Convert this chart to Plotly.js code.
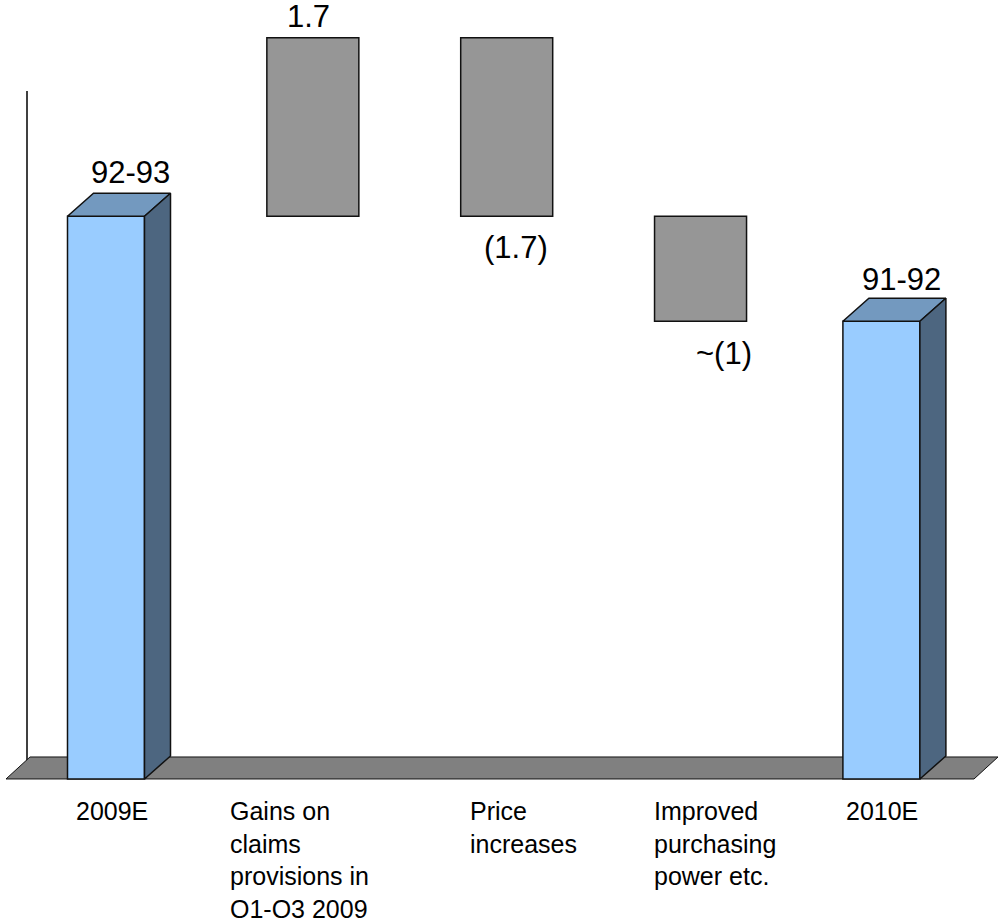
<!DOCTYPE html>
<html>
<head>
<meta charset="utf-8">
<script src="https://cdn.plot.ly/plotly-3.0.1.min.js"></script>
<style>
  html, body { margin: 0; padding: 0; background: #ffffff; }
  #chart { width: 999px; height: 918px; }
</style>
</head>
<body>
<div id="chart"></div>
<script>
// Waterfall bridge: 2009E -> 2010E
const categories = [
  '2009E',
  'Gains on<br>claims<br>provisions in<br>Q1-Q3 2009',
  'Price<br>increases',
  'Improved<br>purchasing<br>power etc.',
  '2010E'
];
const startTotal = 92.5;          // 2009E, stated as 92-93
const endTotal = 91.5;            // 2010E, stated as 91-92
const changes = [1.7, -1.7, -1.0];
const valueLabels = ['92-93', '1.7', '(1.7)', '~(1)', '91-92'];

// ---- axis frame (plot area fills the whole figure) ----
const W = 999, H = 918;
const X_RANGE = [-0.6139, 4.5396];
const Y_RANGE = [85.817, 94.56];
const FLOOR = 87.141;                       // value sitting on the front edge of the floor
const pxX = W / (X_RANGE[1] - X_RANGE[0]);  // pixels per category step
const pxY = H / (Y_RANGE[1] - Y_RANGE[0]);  // pixels per unit

// ---- styling ----
const FRONT = '#99ccff', TOP = '#7399bf', SIDE = '#4d6680';
const STEP = '#969696', FLOOR_FILL = '#808080', EDGE = '#111111';
const FONT = 'Liberation Sans, Arial, sans-serif';
const totalW = 77 / pxX;            // front face width of the total columns
const depthX = 26 / pxX;            // 3-D depth, horizontal
const depthY = 23 / pxY;            // 3-D depth, vertical
const stepW = 92 / pxX;             // width of the floating step boxes
const valueShiftX = [11, -4, 9, 23, 7];
const valueShiftY = [44, 21, -31, -32, 42];
const catShiftX = [-7, -13, 17, 14, -12];

const idx = categories.map((_, i) => i);
const totalIdx = [idx[0], idx[idx.length - 1]];
const totals = [startTotal, endTotal];

// running levels of the floating steps
const stepBase = [], stepTop = [];
let level = startTotal;
changes.forEach(c => { stepBase.push(level); level += c; stepTop.push(level); });

const traces = [];

// front faces of the total columns
traces.push({
  type: 'bar',
  x: totalIdx,
  y: totals.map(v => v - FLOOR),
  base: totals.map(() => FLOOR),
  width: totalW,
  offset: -(totalW + depthX) / 2,
  marker: { color: FRONT, line: { color: EDGE, width: 1.5 } },
  hoverinfo: 'skip', showlegend: false
});

// floating step boxes
traces.push({
  type: 'bar',
  x: idx.slice(1, idx.length - 1),
  y: changes,
  base: stepBase,
  width: stepW,
  marker: { color: STEP, line: { color: EDGE, width: 1.5 } },
  hoverinfo: 'skip', showlegend: false
});

// top and side faces of the total columns
function poly(xs, ys, fill) {
  return {
    type: 'scatter', mode: 'lines', x: xs, y: ys, fill: 'toself',
    fillcolor: fill, line: { color: EDGE, width: 1.5 },
    hoverinfo: 'skip', showlegend: false
  };
}
totalIdx.forEach((c, k) => {
  const v = totals[k];
  const xl = c - (totalW + depthX) / 2;
  const xr = xl + totalW;
  traces.push(poly(
    [xl, xr, xr + depthX, xl + depthX, xl],
    [v, v, v + depthY, v + depthY, v], TOP));
  traces.push(poly(
    [xr, xr, xr + depthX, xr + depthX, xr],
    [FLOOR, v, v + depthY, FLOOR + depthY, FLOOR], SIDE));
});

// value labels: totals on top, gains above the box, losses below the box
const labelAt = [startTotal, ...stepTop, endTotal];
const annotations = idx.map(i => ({
  x: i, y: labelAt[i], xref: 'x', yref: 'y',
  text: valueLabels[i], showarrow: false,
  xanchor: 'center', yanchor: 'middle',
  xshift: valueShiftX[i], yshift: valueShiftY[i],
  font: { family: FONT, size: 31, color: '#000000' }
}));

// category labels under the floor
idx.forEach(i => annotations.push({
  x: i, y: FLOOR, xref: 'x', yref: 'y',
  text: categories[i], showarrow: false,
  xanchor: 'center', yanchor: 'top', align: 'left',
  xshift: catShiftX[i], yshift: -16,
  font: { family: FONT, size: 25, color: '#000000' }
}));

// floor slab and value wall edge
const fx0 = X_RANGE[0] + 6 / pxX, fx1 = X_RANGE[0] + 974 / pxX;
const fdx = 24 / pxX, fdy = 22 / pxY;
const floorPath = `M${fx0},${FLOOR} L${fx1},${FLOOR} L${fx1 + fdx},${FLOOR + fdy} L${fx0 + fdx},${FLOOR + fdy} Z`;
const shapes = [
  {
    type: 'path', xref: 'x', yref: 'y', path: floorPath, layer: 'below',
    fillcolor: FLOOR_FILL, line: { color: EDGE, width: 1 }
  },
  {
    type: 'line', xref: 'paper', yref: 'paper', layer: 'below',
    x0: 27 / W, x1: 27 / W, y0: 1 - 773 / H, y1: 1 - 91 / H,
    line: { color: '#000000', width: 1.5 }
  }
];

const layout = {
  width: W, height: H,
  margin: { l: 0, r: 0, t: 0, b: 0, pad: 0 },
  paper_bgcolor: '#ffffff', plot_bgcolor: '#ffffff',
  barmode: 'overlay',
  xaxis: { range: X_RANGE, showgrid: false, zeroline: false, showticklabels: false, showline: false, fixedrange: true },
  yaxis: { range: Y_RANGE, showgrid: false, zeroline: false, showticklabels: false, showline: false, fixedrange: true },
  shapes: shapes,
  annotations: annotations,
  font: { family: FONT }
};

Plotly.newPlot('chart', traces, layout, { staticPlot: true, displayModeBar: false });
</script>
</body>
</html>
